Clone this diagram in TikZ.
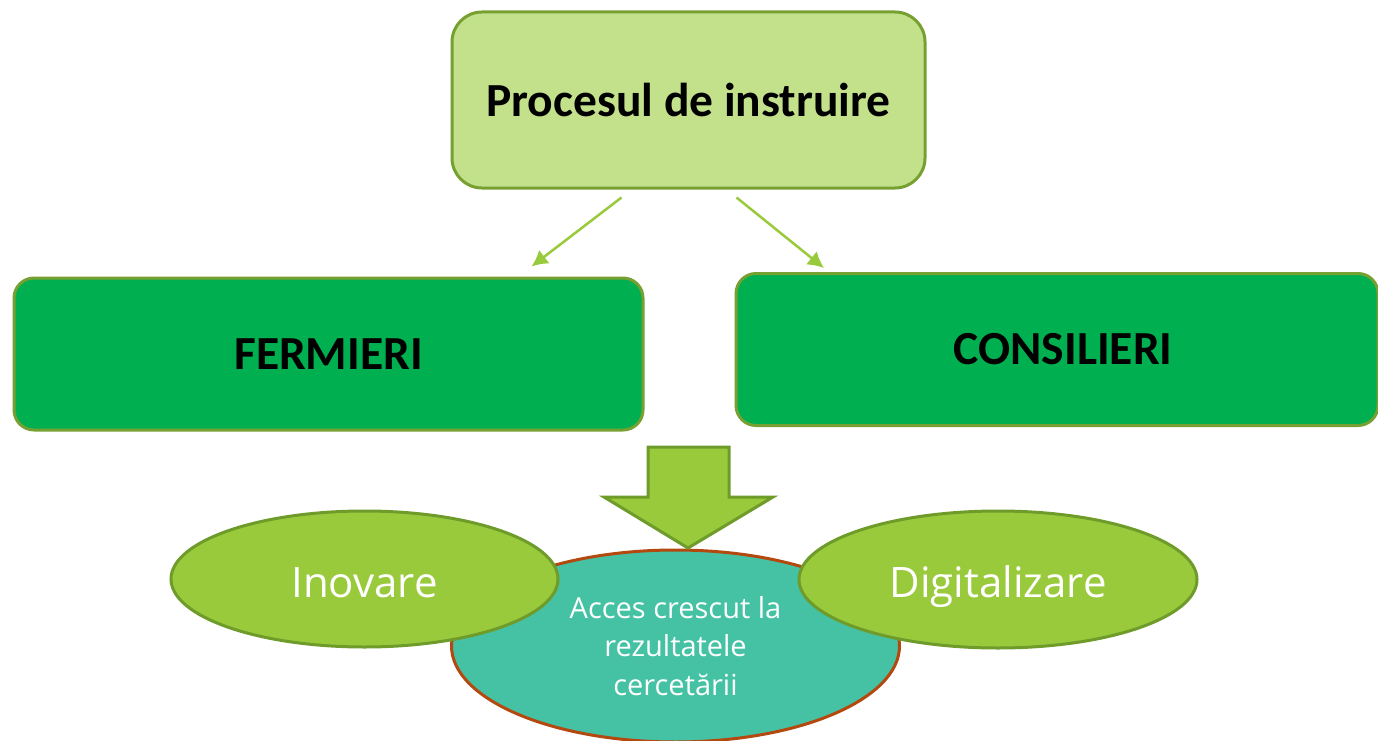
\documentclass[tikz,border=0pt]{standalone}
\usepackage{fontspec}
\setmainfont{Carlito}
\newfontfamily\ellfont{Open Sans}
\usepackage{tikz}
\usetikzlibrary{arrows.meta,shapes.geometric}
\usepackage{xcolor}
\definecolor{topfill}{HTML}{C3E08B}
\definecolor{olive}{HTML}{77A032}
\definecolor{boxfill}{HTML}{00B050}
\definecolor{lime}{HTML}{99CA3C}
\definecolor{limedark}{HTML}{6E9B2A}
\definecolor{teal}{HTML}{45C2A4}
\definecolor{rust}{HTML}{B4490F}

\begin{document}
\begin{tikzpicture}[x=1pt,y=-1pt]
		\tikzset{topbox/.style = {draw=olive,fill=topfill,line width=3pt,rounded corners=30pt,minimum width=473pt,minimum height=176pt,font=\fontsize{47.5}{52}\selectfont\bfseries}}
		\tikzset{group/.style = {draw=olive,fill=boxfill,line width=3pt,rounded corners=20pt,minimum height=152pt,font=\fontsize{47.5}{52}\selectfont\bfseries}}
		\tikzset{idea/.style = {shape=ellipse,draw=limedark,fill=lime,line width=3pt,inner sep=0pt,text=white,text height=36pt,text depth=0pt,font=\ellfont\fontsize{42}{46}\selectfont}}
		\tikzset{edge/.style = {-{Latex[length=16pt,width=17pt]},draw=lime,line width=2.5pt}}
		\useasboundingbox (0,0) rectangle (1378,741);
		\clip (0,0) rectangle (1378,741);
		\node[topbox] (proc) at (688.5,100) {Procesul de instruire};
		\node[group,minimum width=629pt] (ferm) at (328.5,354) {FERMIERI};
		\node[group,minimum width=642pt] (cons) at (1057,349.5) {\hspace*{12pt}CONSILIERI};
		%edges
		\draw[edge] ([xshift=-67pt,yshift=-8pt]proc.south) to ([xshift=203pt,yshift=10pt]ferm.north);
		\draw[edge] ([xshift=48pt,yshift=-8pt]proc.south) to ([xshift=-233pt,yshift=4pt]cons.north);
		%result
		\node[shape=ellipse,draw=rust,fill=teal,line width=3pt,inner sep=0pt,minimum width=448pt,minimum height=192pt,text=white,align=center,font=\ellfont\fontsize{29}{38.5}\selectfont] (acc) at (675.5,646) {Acces crescut la\\rezultatele\\cercetării};
		\filldraw[draw=limedark,fill=lime,line width=3pt,line join=miter] (648,447) -- (729,447) -- (729,497) -- (773,497) -- (688,548) -- (604,497) -- (648,497) -- cycle;
		\node[idea,minimum width=387pt,minimum height=136pt] (inov) at (364.5,579) {Inovare};
		\node[idea,minimum width=398pt,minimum height=137pt] (dig) at (998,579.5) {Digitalizare};
\end{tikzpicture}
\end{document}
